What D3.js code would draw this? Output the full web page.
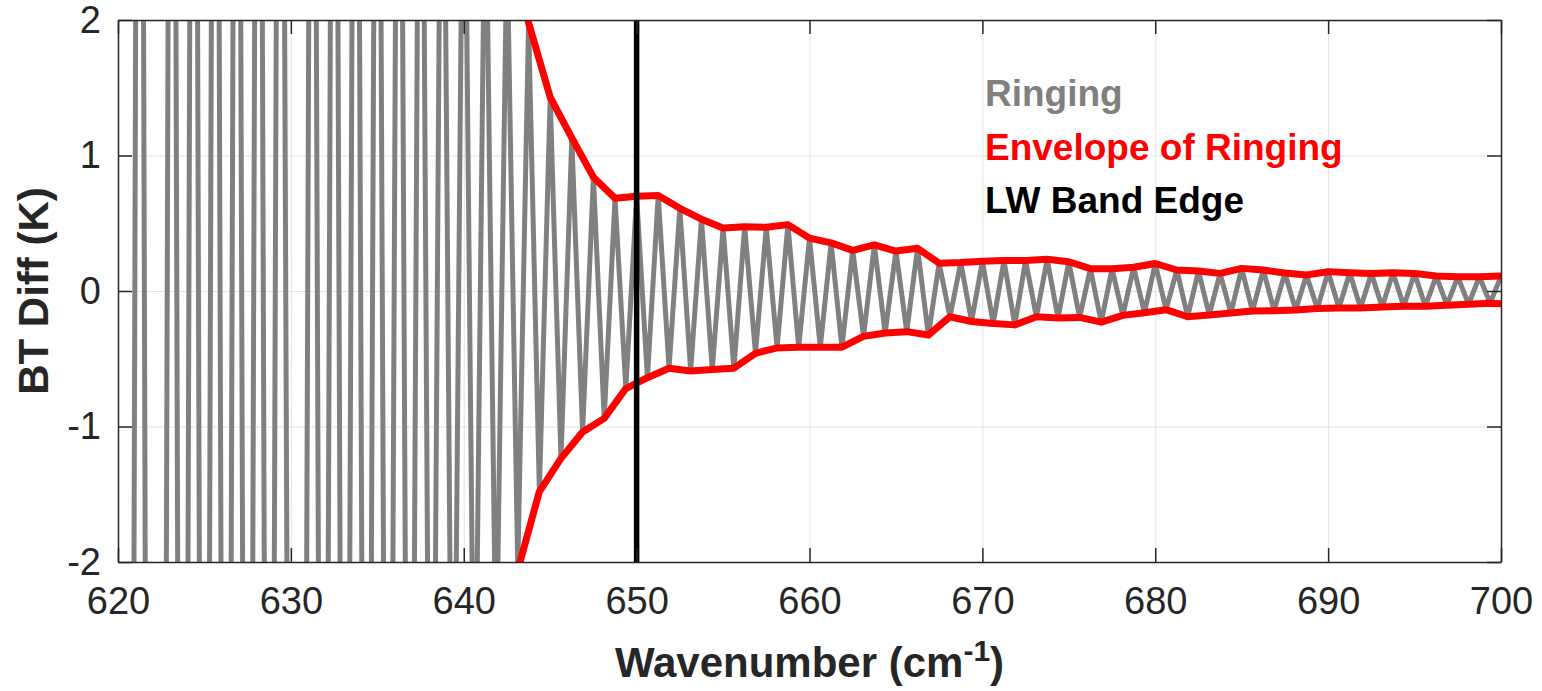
<!DOCTYPE html>
<head>
  <meta charset="utf-8">
  <script src="https://cdn.jsdelivr.net/npm/d3@7"></script>
  <style>
    body { margin: 0; background: #fff; }
    text { font-family: "Liberation Sans", Arial, Helvetica, sans-serif; }
  </style>
</head>
<body>
  <script>
    // ringing sampled every 0.625 cm-1 from 620 to 700
    var waveStart = 620, waveStep = 0.625;
    var ringing = [
      -15.0, -14.5, 11.5, -14.5, -14.0, 11.2, -14.0, 11.0, -13.6, 10.8,
      -13.3, 10.5, -13.0, 10.2, -12.6, 10.0, -9.0, -12.0, 9.5, -11.6,
      9.2, -11.0, 8.8, -10.4, 8.2, -9.6, 7.5, -8.6, 6.5, -6.6,
      5.3, -4.8, 4.2, -3.8, 3.3, -2.9, 2.6, -2.06, 1.98, -1.48,
      1.43, -1.235, 1.13, -1.04, 0.84, -0.94, 0.684, -0.72, 0.70, -0.64,
      0.705, -0.57, 0.61, -0.59, 0.53, -0.58, 0.465, -0.57, 0.475, -0.46,
      0.47, -0.42, 0.49, -0.415, 0.39, -0.415, 0.355, -0.415, 0.30, -0.335,
      0.34, -0.31, 0.295, -0.30, 0.315, -0.325, 0.205, -0.19, 0.21, -0.225,
      0.22, -0.24, 0.225, -0.25, 0.225, -0.19, 0.234, -0.20, 0.216, -0.195,
      0.165, -0.23, 0.165, -0.18, 0.175, -0.16, 0.203, -0.138, 0.155, -0.19,
      0.148, -0.177, 0.13, -0.163, 0.167, -0.148, 0.155, -0.145, 0.133, -0.14,
      0.118, -0.13, 0.143, -0.125, 0.135, -0.125, 0.13, -0.118, 0.135, -0.113,
      0.13, -0.113, 0.11, -0.105, 0.105, -0.098, 0.105, -0.09, 0.11
    ];
    // envelope value of the troughs carried to the right edge
    var lowerEnvEnd = [700, -0.095];
    var bandEdge = [650];
    var xTicks = [620, 630, 640, 650, 660, 670, 680, 690, 700];
    var yTicks = [-2, -1, 0, 1, 2];
    var legendLabels = ["Ringing", "Envelope of Ringing", "LW Band Edge"];
    var legendColors = ["#808080", "#ff0000", "#000000"];

    var W = 1542, H = 691;
    var margin = {top: 20, right: 41, bottom: 129, left: 118};
    var width = W - margin.left - margin.right,
        height = H - margin.top - margin.bottom;

    var svg = d3.select("body").append("svg")
      .attr("width", W)
      .attr("height", H);

    var g = svg.append("g")
      .attr("transform", "translate(" + margin.left + "," + margin.top + ")");

    var x = d3.scaleLinear().domain([620, 700]).range([0, width]);
    var y = d3.scaleLinear().domain([-2, 2]).range([height, 0]);

    var pts = ringing.map(function(v, i) { return {w: waveStart + i * waveStep, v: v}; });
    var upper = pts.filter(function(d) { return d.v > 0; });
    var lower = pts.filter(function(d) { return d.v < 0; });
    lower.push({w: lowerEnvEnd[0], v: lowerEnvEnd[1]});

    // grid
    g.append("g")
      .attr("class", "grid")
      .attr("transform", "translate(0," + height + ")")
      .call(d3.axisBottom(x).tickValues(xTicks).tickSize(-height).tickFormat(""));
    g.append("g")
      .attr("class", "grid")
      .call(d3.axisLeft(y).tickValues(yTicks).tickSize(-width).tickFormat(""));
    g.selectAll(".grid line").attr("stroke", "#e3e3e3").attr("stroke-width", 1);
    g.selectAll(".grid .domain").remove();

    svg.append("clipPath").attr("id", "clip")
      .append("rect").attr("width", width).attr("height", height);

    var plot = g.append("g").attr("clip-path", "url(#clip)");

    var line = d3.line()
      .x(function(d) { return x(d.w); })
      .y(function(d) { return y(d.v); });

    plot.append("path")
      .datum(pts)
      .attr("fill", "none")
      .attr("stroke", "#808080")
      .attr("stroke-width", 5)
      .attr("stroke-linejoin", "bevel")
      .attr("d", line);

    [upper, lower].forEach(function(env) {
      plot.append("path")
        .datum(env)
        .attr("fill", "none")
        .attr("stroke", "#ff0000")
        .attr("stroke-width", 7)
        .attr("stroke-linejoin", "round")
        .attr("d", line);
    });

    plot.selectAll(".edge").data(bandEdge)
      .enter().append("line")
        .attr("x1", x).attr("x2", x)
        .attr("y1", y(-2)).attr("y2", y(2))
        .attr("stroke", "#000")
        .attr("stroke-width", 5.5);

    // axes, ticks inside on all four sides
    var tl = 14;
    var fmt = function(d) { return String(d); };
    var xb = g.append("g")
      .attr("transform", "translate(0," + height + ")")
      .call(d3.axisBottom(x).tickValues(xTicks).tickSizeInner(-tl).tickSizeOuter(0)
        .tickPadding(25).tickFormat(fmt));
    var yl = g.append("g")
      .call(d3.axisLeft(y).tickValues(yTicks).tickSizeInner(-tl).tickSizeOuter(0)
        .tickPadding(17).tickFormat(fmt));
    g.append("g")
      .call(d3.axisTop(x).tickValues(xTicks).tickSizeInner(-tl).tickSizeOuter(0).tickFormat(""));
    g.append("g")
      .attr("transform", "translate(" + width + ",0)")
      .call(d3.axisRight(y).tickValues(yTicks).tickSizeInner(-tl).tickSizeOuter(0).tickFormat(""));

    g.selectAll(".domain").attr("stroke", "#262626").attr("stroke-width", 1.5);
    g.selectAll(".tick line").filter(function() { return !this.closest(".grid"); })
      .attr("stroke", "#262626").attr("stroke-width", 1.5);
    g.selectAll(".tick text")
      .attr("fill", "#262626")
      .style("font-size", "38px");
    xb.selectAll(".tick text").attr("dy", "0.71em");

    // legend
    svg.selectAll(".legend").data(legendLabels)
      .enter().append("text")
        .attr("x", 985)
        .attr("y", function(d, i) { return 106 + i * 53.5; })
        .attr("fill", function(d, i) { return legendColors[i]; })
        .style("font-size", "37px")
        .style("font-weight", "bold")
        .text(function(d) { return d; });

    // axis labels
    var xl = svg.append("text")
      .attr("x", margin.left + width / 2)
      .attr("y", 677)
      .attr("text-anchor", "middle")
      .attr("fill", "#262626")
      .style("font-size", "42px")
      .style("font-weight", "bold");
    xl.append("tspan").text("Wavenumber (cm");
    xl.append("tspan").attr("dy", -16).style("font-size", "30px").text("-1");
    xl.append("tspan").attr("dy", 16).text(")");

    svg.append("text")
      .attr("transform", "translate(48," + (margin.top + height / 2) + ") rotate(-90)")
      .attr("text-anchor", "middle")
      .attr("fill", "#262626")
      .style("font-size", "42px")
      .style("font-weight", "bold")
      .text("BT Diff (K)");
  </script>
</body>
